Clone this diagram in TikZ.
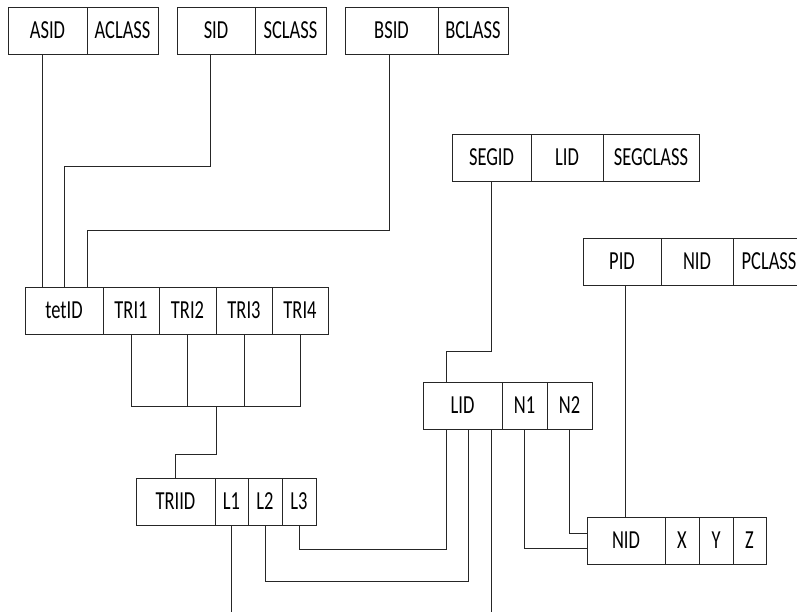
\documentclass[tikz,border=0pt]{standalone}
\usepackage{fontspec}
\setmainfont{Carlito}[FakeStretch=0.71]
\usepackage{tikz}
\usetikzlibrary{positioning}

\begin{document}
\begin{tikzpicture}[x=1pt,y=-1pt,node distance=0pt]
                \tikzstyle{cell} = [rectangle, minimum height=47pt, inner sep=0pt, outer sep=0pt, text centered, draw=black!85, line width=1pt, font=\fontsize{26}{30}\selectfont]
                \tikzstyle{link} = [draw=black!85, line width=1pt]
                \useasboundingbox (0,0) rectangle (797,611);

                \node (asid) [cell, minimum width=79pt, anchor=north west] at (8,7) {ASID};
                \node (aclass) [cell, minimum width=71pt, right=of asid] {ACLASS};
                \node (sid) [cell, minimum width=78pt, anchor=north west] at (177,7) {SID};
                \node (sclass) [cell, minimum width=71pt, right=of sid] {SCLASS};
                \node (bsid) [cell, minimum width=93pt, anchor=north west] at (345,7) {BSID};
                \node (bclass) [cell, minimum width=70pt, right=of bsid] {BCLASS};

                \node (tet) [cell, minimum width=78pt, anchor=north west] at (25,287) {tetID};
                \node (tri1) [cell, minimum width=56pt, right=of tet] {TRI1};
                \node (tri2) [cell, minimum width=57pt, right=of tri1] {TRI2};
                \node (tri3) [cell, minimum width=56pt, right=of tri2] {TRI3};
                \node (tri4) [cell, minimum width=56pt, right=of tri3] {TRI4};

                \node (triid) [cell, minimum width=79pt, anchor=north west] at (136,478) {TRIID};
                \node (l1) [cell, minimum width=33pt, right=of triid] {L1};
                \node (l2) [cell, minimum width=34pt, right=of l1] {L2};
                \node (l3) [cell, minimum width=34pt, right=of l2] {L3};

                \node (segid) [cell, minimum width=79pt, anchor=north west] at (452,134) {SEGID};
                \node (seglid) [cell, minimum width=72pt, right=of segid] {LID};
                \node (segclass) [cell, minimum width=96pt, right=of seglid] {SEGCLASS};

                \node (lid) [cell, minimum width=79pt, anchor=north west] at (423,382) {LID};
                \node (n1) [cell, minimum width=45pt, right=of lid] {N1};
                \node (n2) [cell, minimum width=45pt, right=of n1] {N2};

                \node (pid) [cell, minimum width=78pt, anchor=north west] at (583,238) {PID};
                \node (pnid) [cell, minimum width=72pt, right=of pid] {NID};
                \node (pclass) [cell, minimum width=72pt, right=of pnid] {PCLASS};

                \node (nid) [cell, minimum width=78pt, anchor=north west] at (587,517) {NID};
                \node (xc) [cell, minimum width=34pt, right=of nid] {X};
                \node (yc) [cell, minimum width=34pt, right=of xc] {Y};
                \node (zc) [cell, minimum width=33pt, right=of yc] {Z};

                \draw [link] ([xshift=-5.5pt]asid.south) -- ([xshift=-22pt]tet.north);
                \draw [link] ([xshift=-6pt]sid.south) -- ++(0,112) -| (tet.north);
                \draw [link] ([xshift=-2.5pt]bsid.south) -- ++(0,176) -| ([xshift=23pt]tet.north);

                \draw [link] (tri1.south) -- ++(0,72) -| (tri4.south);
                \draw [link] (tri2.south) -- ++(0,72);
                \draw [link] (tri3.south) -- ++(0,72);
                \draw [link] (tri2.south east) ++(0,72) -- ++(0,48) -| (triid.north);

                \draw [link] (segid.south) -- ++(0,170) -| ([xshift=-16.5pt]lid.north);
                \draw [link] ([xshift=3pt]pid.south) -- ([xshift=-1pt]nid.north);

                \draw [link] (l3.south) -- ++(0,24) -| ([xshift=-16.5pt]lid.south);
                \draw [link] (l2.south) -- ++(0,56) -| ([xshift=5.5pt]lid.south);
                \draw [link] (l1.south) -- ++(0,90);
                \draw [link] ([xshift=28.5pt]lid.south) -- ++(0,190);
                \draw [link] (n1.south) |- ([yshift=-7.5pt]nid.west);
                \draw [link] (n2.south) |- ([yshift=7.5pt]nid.west);
            \end{tikzpicture}
\end{document}
